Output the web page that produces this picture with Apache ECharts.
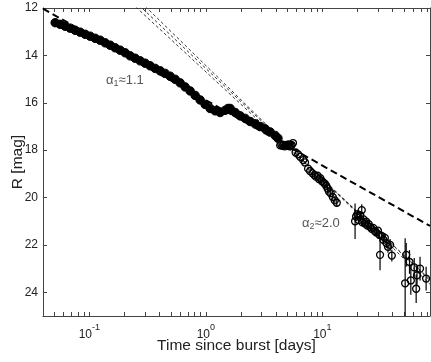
<!DOCTYPE html>
<html><head><meta charset="utf-8">
<script src="https://cdn.jsdelivr.net/npm/echarts@6/dist/echarts.min.js"></script>
<style>html,body{margin:0;padding:0;background:#fff}#c{width:431px;height:362px}</style>
</head><body><div id="c"></div>
<script>
// Early, densely sampled light curve (days, R mag)
const earlyT = [0.0509,0.0562,0.0620,0.0684,0.0755,0.0834,0.0920,0.1016,0.1121,0.1238,0.1367,0.1509,0.1665,0.1838,0.2030,
  0.2240,0.2473,0.2730,0.3013,0.3326,0.3672,0.4053,0.4474,0.4939,0.5452,0.6018,0.6643,0.7333,0.8095,0.8935,0.9862,1.089,1.202,1.327,
  1.465,1.55,1.617,1.785,1.970,2.175,2.401,2.650,2.925,3.228,3.564,3.934,4.16];
const earlyMag = [12.62,12.69,12.77,12.85,12.94,13.02,13.11,13.19,13.28,13.36,13.47,13.57,13.68,13.78,13.89,
  14.02,14.12,14.23,14.33,14.44,14.55,14.65,14.76,14.88,15.01,15.16,15.33,15.50,15.69,15.88,16.07,16.24,16.34,16.41,
  16.32,16.24,16.24,16.41,16.55,16.66,16.79,16.89,17.00,17.10,17.23,17.38,17.50];
// Later photometry with errors
const lateT = [4.35,4.45,4.55,4.65,4.75,4.85,4.95,5.05,5.15,5.25,5.35,5.45,5.60,5.90,6.20,6.45,6.85,7.10,7.55,7.85,8.25,8.55,8.80,9.10,9.35,9.60,9.90,10.2,10.5,10.8,11.1,11.4,11.8,12.3,12.8,13.3,
  19.1,19.5,20.0,20.5,21.2,21.8,22.1,22.6,23.2,23.8,24.4,25.0,25.8,26.5,27.3,28.2,29.1,30.0,31.0,31.3,32.3,33.4,34.4,35.5,36.6,38.2,39.5,
  51.4,52.5,56.0,57.5,61.5,63.9,65.0,69.0,77.8];
const lateMag = [17.80,17.76,17.82,17.78,17.84,17.80,17.78,17.82,17.76,17.84,17.80,17.78,17.70,18.10,18.18,18.28,18.42,18.52,18.78,18.88,18.98,19.05,19.12,19.08,19.22,19.18,19.30,19.36,19.42,19.50,19.62,19.75,19.82,19.98,20.12,20.22,
  21.00,20.80,20.70,20.95,20.75,20.53,21.05,20.92,21.10,21.02,21.18,21.12,21.25,21.32,21.28,21.42,21.48,21.40,21.58,22.42,21.62,21.78,21.70,21.92,22.08,22.00,22.45,
  23.62,22.42,22.72,23.50,22.95,23.85,23.28,23.00,23.42];
const lateErr = [0.03,0.03,0.03,0.03,0.04,0.04,0.04,0.04,0.04,0.04,0.04,0.04,0.05,0.05,0.05,0.05,0.06,0.06,0.08,0.08,0.08,0.08,0.08,0.10,0.10,0.10,0.10,0.10,0.10,0.10,0.12,0.12,0.12,0.15,0.15,0.15,
  0.75,0.20,0.15,0.15,0.18,0.25,0.12,0.12,0.12,0.12,0.12,0.12,0.12,0.12,0.15,0.15,0.15,0.15,0.18,0.65,0.18,0.20,0.20,0.22,0.25,0.25,0.25,
  1.90,0.50,0.50,0.60,0.40,0.60,0.40,0.50,0.50];
// Power-law fits (endpoints in data space)
const fitT = [0.04, 84];
const fitAlpha1 = [12.03, 21.20];
const fitAlpha2a = [8.33, 23.45];
const fitAlpha2b = [8.05, 23.50];
const fitAlpha2c = [7.72, 23.66];
// Axis ticks
const xTickValues = [0.05,0.06,0.07,0.08,0.09,0.1,0.2,0.3,0.4,0.5,0.6,0.7,0.8,0.9,1,2,3,4,5,6,7,8,9,10,20,30,40,50,60,70,80];
const xLabelValues = [0.1,1,10];
const yTickValues = [12,14,16,18,20,22,24];

const FONT = "'Liberation Sans', Arial, sans-serif";
const axisCol = '#444';
const chart = echarts.init(document.getElementById('c'), null, {renderer:'canvas'});

function expLabel(v){
  const e = Math.round(Math.log10(v));
  return '{b|10}{s|' + e + '}';
}
const xAxisBase = {
  type:'log', logBase:10, min:0.04, max:84,
  axisLine:{show:true, lineStyle:{color:axisCol, width:1}},
  axisTick:{show:true, inside:true, length:4, customValues:xTickValues, lineStyle:{color:axisCol}},
  splitLine:{show:false}, minorTick:{show:false}
};
const yAxisBase = {
  type:'value', inverse:true, min:12, max:25, interval:2,
  axisLine:{show:true, lineStyle:{color:axisCol, width:1}},
  axisTick:{show:true, inside:true, length:4, customValues:yTickValues, lineStyle:{color:axisCol}},
  splitLine:{show:false}
};

const errData = lateT.map((t,i)=>[t, lateMag[i], lateErr[i]]);
const richAlpha = {
  a:{fontSize:13, fill:'#555', color:'#555', lineHeight:16, verticalAlign:'middle', fontFamily:FONT},
  sub:{fontSize:9, fill:'#555', color:'#555', lineHeight:16, verticalAlign:'bottom', fontFamily:FONT}
};

const option = {
  backgroundColor:'#fff',
  animation:false,
  textStyle:{fontFamily:FONT},
  grid:{left:43, top:8, right:1, bottom:46, containLabel:false, outerBoundsMode:'none'},
  xAxis:[
    Object.assign({}, xAxisBase, {
      position:'bottom',
      name:'Time since burst [days]', nameLocation:'middle', nameGap:22, nameMoveOverlap:false,
      nameTextStyle:{fontSize:15.5, color:'#222', fontFamily:FONT},
      axisLabel:{show:true, customValues:xLabelValues, margin:7, formatter:expLabel,
        rich:{b:{fontSize:12, color:'#222', fontFamily:FONT, lineHeight:18, verticalAlign:'bottom'},
              s:{fontSize:9, color:'#222', fontFamily:FONT, lineHeight:10, verticalAlign:'top'}}}
    }),
    Object.assign({}, xAxisBase, {position:'top', axisLabel:{show:false}})
  ],
  yAxis:[
    Object.assign({}, yAxisBase, {
      position:'left',
      name:'R [mag]', nameLocation:'middle', nameGap:17, nameRotate:90, nameMoveOverlap:false,
      nameTextStyle:{fontSize:15.5, color:'#222', fontFamily:FONT},
      axisLabel:{show:true, customValues:yTickValues, fontSize:12, color:'#222', margin:5, fontFamily:FONT}
    }),
    Object.assign({}, yAxisBase, {position:'right', axisLabel:{show:false}})
  ],
  series:[
    {type:'line', name:'alpha1 fit', data:fitT.map((t,i)=>[t,fitAlpha1[i]]), symbol:'none', clip:true,
      lineStyle:{color:'#000', width:2, type:[7,4]}, z:1},
    {type:'line', data:fitT.map((t,i)=>[t,fitAlpha2a[i]]), symbol:'none', clip:true,
      lineStyle:{color:'#222', width:0.9, type:[3,2.5]}, z:1},
    {type:'line', data:fitT.map((t,i)=>[t,fitAlpha2b[i]]), symbol:'none', clip:true,
      lineStyle:{color:'#222', width:0.9, type:[3,2.5]}, z:1},
    {type:'line', data:fitT.map((t,i)=>[t,fitAlpha2c[i]]), symbol:'none', clip:true,
      lineStyle:{color:'#222', width:0.9, type:[3,2.5]}, z:1},
    {type:'custom', data:errData, clip:true, z:2,
      renderItem:function(params, api){
        const t = api.value(0), m = api.value(1), e = api.value(2);
        const p1 = api.coord([t, m - e]), p2 = api.coord([t, m + e]);
        return {type:'line', shape:{x1:p1[0], y1:p1[1], x2:p2[0], y2:p2[1]}, style:{stroke:'#000', lineWidth:1.2}};
      }},
    {type:'scatter', data:earlyT.map((t,i)=>[t,earlyMag[i]]), symbol:'circle', symbolSize:8.5, clip:true, z:3,
      itemStyle:{color:'#000', borderColor:'#000', borderWidth:1, opacity:1}},
    {type:'scatter', data:lateT.map((t,i)=>[t,lateMag[i]]), symbol:'circle', symbolSize:7, clip:true, z:3,
      itemStyle:{color:'rgba(255,255,255,0)', borderColor:'#000', borderWidth:1.3, opacity:1}}
  ],
  graphic:[
    {type:'text', left:106, top:74, style:{text:'{a|α}{sub|1}{a|≈1.1}', fontFamily:FONT, rich:richAlpha}},
    {type:'text', left:302, top:217, style:{text:'{a|α}{sub|2}{a|≈2.0}', fontFamily:FONT, rich:richAlpha}}
  ]
};
chart.setOption(option);
</script></body></html>
